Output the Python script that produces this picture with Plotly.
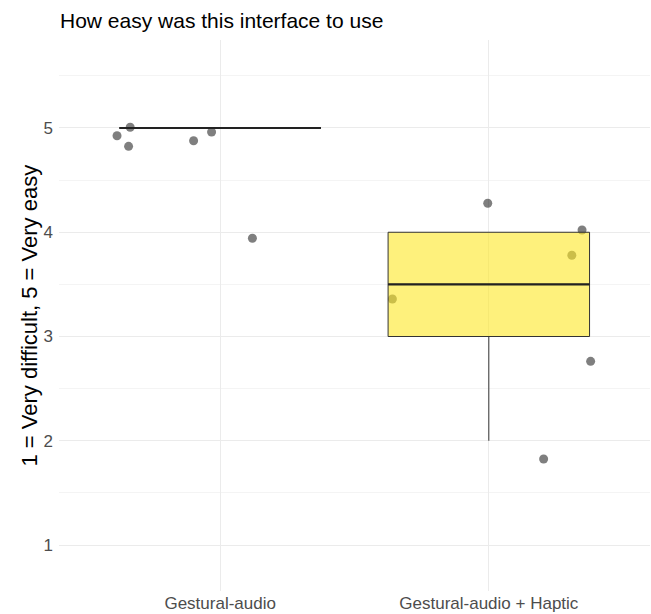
import numpy as np
import plotly.graph_objects as go

# ---- data ----
categories = ["Gestural-audio", "Gestural-audio + Haptic"]
cat_pos = [1, 2]
# raw ratings (1-5) per condition
ratings_audio = [5, 5, 5, 5, 5, 4]
ratings_haptic = [4, 4, 4, 3, 3, 2]
# jittered display positions of the points
jit_x_audio = [-0.384, -0.335, -0.341, -0.099, -0.032, 0.120]
jit_y_audio = [4.926, 5.007, 4.824, 4.878, 4.962, 3.942]
jit_x_haptic = [-0.004, 0.347, 0.309, -0.359, 0.379, 0.204]
jit_y_haptic = [4.278, 4.022, 3.779, 3.360, 2.762, 1.825]
y_ticks = [1, 2, 3, 4, 5]

FONT = "Liberation Sans, Arial, Helvetica, sans-serif"
BOX_W = 0.75

fig = go.Figure()

# jittered points (underneath the boxes)
px = [cat_pos[0] + d for d in jit_x_audio] + [cat_pos[1] + d for d in jit_x_haptic]
py = jit_y_audio + jit_y_haptic
fig.add_trace(go.Scatter(
    x=px, y=py, mode="markers",
    marker=dict(size=9, color="rgba(0,0,0,0.5)", line=dict(width=0)),
    xaxis="x", yaxis="y", showlegend=False, hoverinfo="skip"))

# boxes (on overlaying axes so they sit above the points); outliers hidden
box_x = [cat_pos[0]] * len(ratings_audio) + [cat_pos[1]] * len(ratings_haptic)
box_y = ratings_audio + ratings_haptic
fig.add_trace(go.Box(
    x=box_x, y=box_y, width=BOX_W, boxpoints="outliers", whiskerwidth=0,
    marker=dict(opacity=0, size=1),
    fillcolor="rgba(253,231,37,0.6)", line=dict(color="#333333", width=1),
    quartilemethod="linear",
    xaxis="x2", yaxis="y2", showlegend=False, hoverinfo="skip"))

# thicker median segments, computed from the ratings
for pos, r in zip(cat_pos, [ratings_audio, ratings_haptic]):
    med = float(np.median(r))
    fig.add_trace(go.Scatter(
        x=[pos - BOX_W / 2, pos + BOX_W / 2], y=[med, med], mode="lines",
        line=dict(color="#222222", width=2.2),
        xaxis="x2", yaxis="y2", showlegend=False, hoverinfo="skip"))

xr = [0.4, 2.6]
yr = [0.559, 5.844]

fig.update_layout(
    width=651, height=614,
    margin=dict(l=59, r=1, t=40, b=23),
    plot_bgcolor="white", paper_bgcolor="white",
    font=dict(family=FONT),
    title=dict(text="How easy was this interface to use",
               x=60 / 651, xanchor="left", xref="container",
               y=1 - 21 / 614, yanchor="middle", yref="container",
               font=dict(size=21, color="black", family=FONT)),
    xaxis=dict(range=xr, tickvals=cat_pos, ticktext=categories,
               showgrid=True, gridcolor="#EBEBEB", gridwidth=1.1,
               zeroline=False, showline=False, ticks="",
               tickfont=dict(size=17, color="#4D4D4D")),
    yaxis=dict(range=yr, tickvals=y_ticks,
               showgrid=True, gridcolor="#EBEBEB", gridwidth=1.1,
               minor=dict(tick0=0.5, dtick=1, showgrid=True,
                          gridcolor="#F4F4F4", gridwidth=1),
               zeroline=False, showline=False, ticks="",
               ticklabelstandoff=5,
               tickfont=dict(size=17, color="#4D4D4D")),
    xaxis2=dict(range=xr, overlaying="x", visible=False),
    yaxis2=dict(range=yr, overlaying="y", visible=False),
    annotations=[dict(text="1 = Very difficult, 5 = Very easy",
                      xref="paper", yref="paper", x=0, y=0.5,
                      xanchor="center", yanchor="middle", xshift=-30,
                      textangle=-90, showarrow=False,
                      font=dict(size=22, color="black", family=FONT))],
)

fig.write_html("out.html",
               config={"displayModeBar": False},
               post_script="document.body.style.margin='0';")
